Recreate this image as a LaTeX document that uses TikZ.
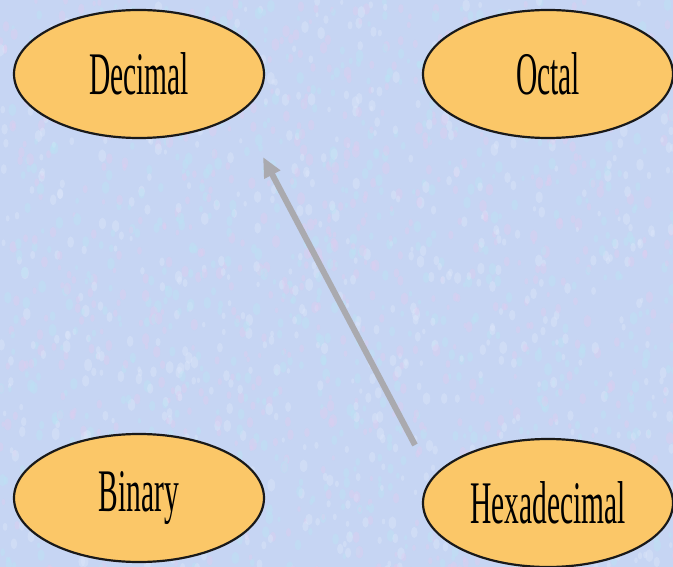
\documentclass[tikz,border=0pt]{standalone}
\usepackage{fontspec}
\setmainfont{Liberation Serif}
\usetikzlibrary{shapes.geometric,arrows.meta,calc}
\definecolor{bgblue}{RGB}{198,213,243}
\definecolor{bgpink}{RGB}{224,204,240}
\definecolor{bgcyan}{RGB}{186,228,244}
\definecolor{bgwhite}{RGB}{222,232,250}
\definecolor{ovalfill}{RGB}{251,199,104}
\definecolor{arrowgray}{RGB}{170,170,175}
\begin{document}
\begin{tikzpicture}[x=1pt,y=-1pt,
  oval/.style={ellipse, draw=black!90, line width=2.2pt, fill=ovalfill,
    minimum width=250pt, minimum height=128pt, inner sep=0pt},
  lbl/.style={font=\fontsize{29.5}{30}\selectfont},
  conv/.style={draw=arrowgray, line width=6pt, -{Triangle[length=20pt,width=17pt]}}]
\fill[bgblue] (0,0) rectangle (673,567);
\begin{scope}
\clip (0,0) rectangle (673,567);
\pgfmathsetseed{7}
\foreach \i in {1,...,2200}{
  \pgfmathsetmacro{\px}{rnd*680}
  \pgfmathsetmacro{\py}{rnd*575}
  \pgfmathsetmacro{\rr}{2.5+rnd*4}
  \pgfmathsetmacro{\kind}{rnd}
  \ifdim\kind pt<0.35pt
    \fill[bgpink,opacity=0.4] (\px,\py) ellipse ({\rr*0.6} and \rr);
  \else\ifdim\kind pt<0.7pt
    \fill[bgcyan,opacity=0.4] (\px,\py) ellipse ({\rr*0.6} and \rr);
  \else
    \fill[bgwhite,opacity=0.4] (\px,\py) ellipse ({\rr*0.6} and \rr);
  \fi\fi
}
\end{scope}
\useasboundingbox (0,0) rectangle (673,567);
\node[oval,lbl] (dec) at (139,74) {\scalebox{1}[2.05]{Decimal}};
\node[oval,lbl] (oct) at (548,74) {\scalebox{1}[2.05]{Octal}};
\node[oval,lbl] (bin) at (139,498) {\scalebox{1}[2.05]{Binary}};
\node[oval,lbl] (hex) at (548,503) {\scalebox{1}[2.05]{Hexadecimal}};
\coordinate (hexout) at ($(hex.center)+(-133,-58)$);
\coordinate (decin) at ($(dec.center)+(124,83)$);
\draw[conv] (hexout) -- (decin);
\end{tikzpicture}
\end{document}
